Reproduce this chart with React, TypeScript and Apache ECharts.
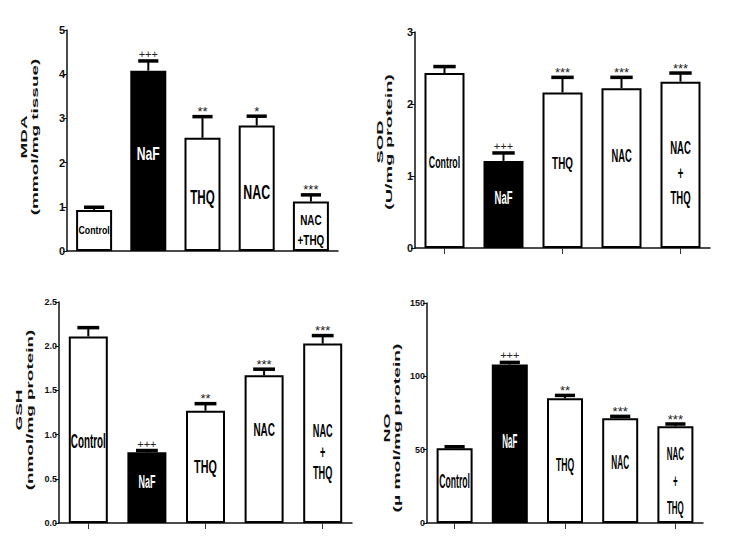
import React, { useEffect, useRef } from 'react';
import * as echarts from 'echarts';

// ---------- data ----------
const categories = ['Control', 'NaF', 'THQ', 'NAC', 'NAC+THQ'];

const mdaMean = [0.93, 4.08, 2.56, 2.84, 1.12];
const mdaErr = [0.06, 0.22, 0.48, 0.21, 0.15];
const mdaSig = ['', '+++', '**', '*', '***'];
const mdaBarText = ['Control', 'NaF', 'THQ', 'NAC', 'NAC\n+THQ'];

const sodMean = [2.43, 1.21, 2.16, 2.22, 2.31];
const sodErr = [0.09, 0.11, 0.21, 0.15, 0.12];
const sodSig = ['', '+++', '***', '***', '***'];
const sodBarText = ['Control', 'NaF', 'THQ', 'NAC', 'NAC\n+\nTHQ'];

const gshMean = [2.11, 0.8, 1.27, 1.67, 2.03];
const gshErr = [0.1, 0.02, 0.08, 0.07, 0.09];
const gshSig = ['', '+++', '**', '***', '***'];
const gshBarText = ['Control', 'NaF', 'THQ', 'NAC', 'NAC\n+\nTHQ'];

const noMean = [51, 108, 85, 71.5, 66];
const noErr = [1, 1.5, 2, 1.2, 1.5];
const noSig = ['', '+++', '**', '***', '***'];
const noBarText = ['Control', 'NaF', 'THQ', 'NAC', 'NAC\n+\nTHQ'];

const mdaTitle = 'MDA\n(mmol/mg tissue)';
const sodTitle = 'SOD\n(U/mg protein)';
const gshTitle = 'GSH\n(nmol/mg protein)';
const noTitle = 'NO\n(\u00b5 mol/mg protein)';

// ---------- layout ----------
const FONT = '"Liberation Sans", Arial, sans-serif';

type Panel = {
  mean: number[]; err: number[]; sig: string[]; text: string[]; title: string;
  max: number; interval: number; decimals: number;
  grid: { left: number; top: number; width: number; height: number };
  barWidth: number; xTicks: boolean; tickFont: number;
  titlePos: [number, number]; titleScale: number; titleLH: number;
  labelLayout: [number, number, number][]; // fontSize, scaleX, fraction from top
  multiLH: number;
};

const panels: Panel[] = [
  {
    mean: mdaMean, err: mdaErr, sig: mdaSig, text: mdaBarText, title: mdaTitle,
    max: 5, interval: 1, decimals: 0,
    grid: { left: 67, top: 30, width: 271, height: 221 },
    barWidth: 36, xTicks: false, tickFont: 11,
    titlePos: [29, 137], titleScale: 1.72, titleLH: 12,
    labelLayout: [[11, 0.8, 0.49], [19, 0.64, 0.46], [20, 0.58, 0.52], [20, 0.62, 0.53], [15, 0.66, 0.58]],
    multiLH: 20,
  },
  {
    mean: sodMean, err: sodErr, sig: sodSig, text: sodBarText, title: sodTitle,
    max: 3, interval: 1, decimals: 0,
    grid: { left: 415, top: 32, width: 295, height: 216 },
    barWidth: 40, xTicks: true, tickFont: 11,
    titlePos: [384.5, 142], titleScale: 1.81, titleLH: 11,
    labelLayout: [[16, 0.55, 0.51], [19, 0.5, 0.41], [17, 0.58, 0.45], [18, 0.52, 0.42], [18, 0.53, 0.55]],
    multiLH: 25,
  },
  {
    mean: gshMean, err: gshErr, sig: gshSig, text: gshBarText, title: gshTitle,
    max: 2.5, interval: 0.5, decimals: 1,
    grid: { left: 59, top: 302, width: 293, height: 221 },
    barWidth: 39, xTicks: true, tickFont: 9,
    titlePos: [24, 410], titleScale: 1.72, titleLH: 14,
    labelLayout: [[21, 0.47, 0.555], [18, 0.5, 0.41], [18, 0.6, 0.5], [18, 0.55, 0.37], [18, 0.51, 0.6]],
    multiLH: 21,
  },
  {
    mean: noMean, err: noErr, sig: noSig, text: noBarText, title: noTitle,
    max: 150, interval: 50, decimals: 0,
    grid: { left: 427, top: 303, width: 276, height: 220 },
    barWidth: 36, xTicks: true, tickFont: 9,
    titlePos: [391.5, 428], titleScale: 1.76, titleLH: 11,
    labelLayout: [[20, 0.43, 0.44], [20, 0.4, 0.48], [18, 0.48, 0.53], [20, 0.41, 0.42], [19, 0.42, 0.556]],
    multiLH: 27,
  },
];

function buildOption() {
  const grid: any[] = [];
  const xAxis: any[] = [];
  const yAxis: any[] = [];
  const series: any[] = [];
  const graphic: any[] = [];

  panels.forEach((p, k) => {
    grid.push({ ...p.grid, containLabel: false });
    xAxis.push({
      type: 'category', gridIndex: k, data: categories,
      axisLine: { show: true, lineStyle: { color: '#111', width: 1.5 } },
      axisTick: { show: p.xTicks, alignWithLabel: true, length: 6, lineStyle: { color: '#333', width: 1 } },
      axisLabel: { show: false },
      splitLine: { show: false },
    });
    yAxis.push({
      type: 'value', gridIndex: k, min: 0, max: p.max, interval: p.interval,
      axisLine: { show: true, lineStyle: { color: '#111', width: 1.5 } },
      axisTick: { show: true, length: 4, lineStyle: { color: '#111', width: 1 } },
      splitLine: { show: false },
      axisLabel: {
        fontSize: p.tickFont, fontWeight: 'bold', fontFamily: FONT, color: '#111', margin: 2,
        formatter: (v: number) => v.toFixed(p.decimals),
      },
    });

    series.push({
      type: 'bar', xAxisIndex: k, yAxisIndex: k, barWidth: p.barWidth,
      data: p.mean.map((v, i) => ({
        value: v,
        itemStyle: { color: i === 1 ? '#000' : '#fff', borderColor: '#000', borderWidth: 2 },
      })),
      z: 2,
    });

    const capHalf = p.barWidth * 0.28;
    series.push({
      type: 'custom', xAxisIndex: k, yAxisIndex: k, z: 4,
      data: p.mean.map((v, i) => [i, v, p.err[i]]),
      renderItem: (params: any, api: any) => {
        const i = params.dataIndex;
        const idx = api.value(0);
        const m = api.value(1);
        const e = api.value(2);
        const base = api.coord([idx, m]);
        const top = api.coord([idx, m + e]);
        const s = p.sig[i];
        const isStar = s.indexOf('*') >= 0;
        const children: any[] = [
          { type: 'line', shape: { x1: base[0], y1: base[1], x2: top[0], y2: top[1] }, style: { stroke: '#000', lineWidth: 2 } },
          { type: 'line', shape: { x1: top[0] - capHalf, y1: top[1], x2: top[0] + capHalf, y2: top[1] }, style: { stroke: '#000', lineWidth: 3.5 } },
        ];
        if (s) {
          children.push({
            type: 'text', x: top[0], y: top[1] - (isStar ? 5 : 7),
            style: {
              text: s, fill: '#222', fontSize: isStar ? 13 : 11, fontFamily: FONT,
              align: 'center', verticalAlign: 'middle',
            },
          });
        }
        return { type: 'group', children };
      },
    });

    series.push({
      type: 'custom', xAxisIndex: k, yAxisIndex: k, z: 5,
      data: p.mean.map((v, i) => [i, v]),
      renderItem: (params: any, api: any) => {
        const i = params.dataIndex;
        const [fs, sx, f] = p.labelLayout[i];
        const pt = api.coord([api.value(0), api.value(1) * (1 - f)]);
        return {
          type: 'text', x: pt[0], y: pt[1], scaleX: sx,
          style: {
            text: p.text[i], fill: i === 1 ? '#fff' : '#000',
            fontSize: fs, fontWeight: 'bold', fontFamily: FONT,
            align: 'center', verticalAlign: 'middle', lineHeight: p.multiLH,
          },
        };
      },
    });

    graphic.push({
      type: 'text', x: p.titlePos[0], y: p.titlePos[1], rotation: Math.PI / 2,
      scaleX: p.titleScale, scaleY: 0.85,
      style: {
        text: p.title, fill: '#111', fontSize: 11, fontWeight: 'bold', fontFamily: FONT,
        align: 'center', verticalAlign: 'middle', lineHeight: p.titleLH,
      },
    });
  });

  return {
    animation: false,
    backgroundColor: '#fff',
    grid, xAxis, yAxis, series, graphic,
  };
}

export default function App() {
  const ref = useRef<HTMLDivElement>(null);
  useEffect(() => {
    if (!ref.current) return;
    const chart = echarts.init(ref.current, undefined, { renderer: 'svg' });
    chart.setOption(buildOption() as any);
    return () => chart.dispose();
  }, []);
  return (
    <div
      ref={ref}
      style={{ position: 'fixed', left: 0, top: 0, width: 729, height: 558, background: '#fff' }}
    />
  );
}
